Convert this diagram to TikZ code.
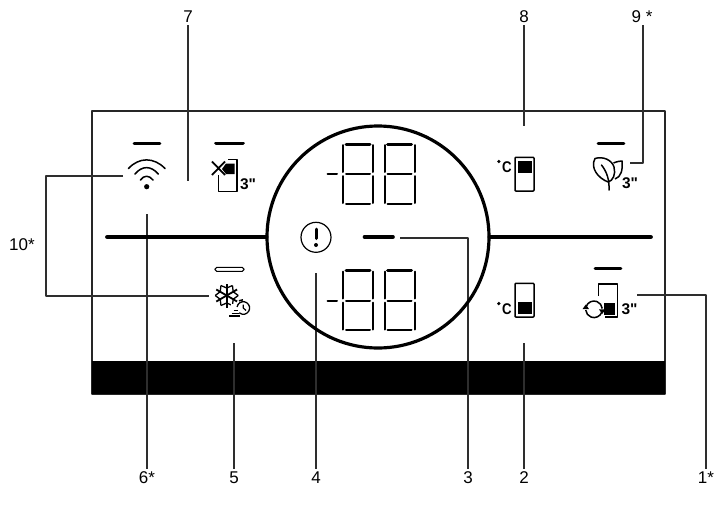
\documentclass[tikz,border=0pt]{standalone}
\usepackage{fontspec}
\usetikzlibrary{calc}
\setmainfont{Liberation Sans}
\newfontfamily\icf{Liberation Sans}
\begin{document}
\begin{tikzpicture}[x=1pt,y=-1pt,line join=round,
  leader/.style={draw=black!82,line width=1.3pt},
  lbl/.style={font=\fontsize{17}{18}\selectfont,inner sep=0pt,text=black},
  sec/.style={font=\icf\fontsize{15.5}{16}\selectfont\bfseries,inner sep=0pt},
  ink/.style={draw=black,line width=1.5pt},
  dashmark/.style={draw=black,line width=2.8pt,line cap=round},
  seg/.style={draw=black,line width=2pt,line cap=round},
  segb/.style={draw=black,line width=3pt,line cap=round}]
\useasboundingbox (0,0) rectangle (718,512);
% coordinates for connector ends
\foreach \n/\x/\y in {a7/188/181,a8/524/126,a9/630/163,a9b/643/163,a6/147/214,a5/234/343,a4/316/273,a3/400/238,a3b/468/238,a2/524/343,a1/637/295,a1b/706/295,a10/123/176,a10b/46/176,a10c/46/296,a10d/209/296}
  \coordinate (\n) at (\x,\y);
% labels
\node[lbl] (l7) at (188,17) {7};
\node[lbl] (l8) at (524,17) {8};
\node[lbl] (l9) at (642,17) {9 *};
\node[lbl] (l10) at (22,245) {10*};
\node[lbl] (l6) at (147,478) {6*};
\node[lbl] (l5) at (234,478) {5};
\node[lbl] (l4) at (316,478) {4};
\node[lbl] (l3) at (468,478) {3};
\node[lbl] (l2) at (524,478) {2};
\node[lbl] (l1) at (706,478) {1*};
% panel
\draw[black!85,line width=1.3pt] (92,111) rectangle (665,394);
\fill[black] (92,361) rectangle (665,394);
% leaders
\draw[leader] (188,25) -- (a7);
\draw[leader] (524,25) -- (a8);
\draw[leader] (a9) -- (a9b) -- (643,25);
\draw[leader] (a6) -- (147,469);
\draw[leader] (a5) -- (234,469);
\draw[leader] (a4) -- (316,469);
\draw[leader] (a3) -- (a3b) -- (468,469);
\draw[leader] (a2) -- (524,469);
\draw[leader] (a1) -- (a1b) -- (706,469);
\draw[leader] (a10) -- (a10b) -- (a10c) -- (a10d);
% bars and circle
\draw[black,line width=4.8pt,line cap=round] (107.5,237) -- (266,237);
\draw[black,line width=4.8pt,line cap=round] (490,237) -- (650.5,237);
\draw[black,line width=3.2pt] (378,237) circle[radius=111];
% digits
\foreach \y in {144,270.5}{
  \draw[seg] (327.5,\y+30) -- (337,\y+30);
  \foreach \x in {343,384.5}{
    \draw[seg] (\x,\y+1) -- (\x,\y+28) (\x+30,\y+1) -- (\x+30,\y+28)
      (\x,\y+32) -- (\x,\y+59) (\x+30,\y+32) -- (\x+30,\y+59);
    \draw[segb] (\x+3,\y) -- (\x+27,\y);
    \draw[seg] (\x+3,\y+30) -- (\x+27,\y+30) (\x+3,\y+59.5) -- (\x+27,\y+59.5);
  }
}
% alert
\draw[black,line width=1.2pt] (316,237.3) circle[radius=15];
\draw[black,line width=3pt,line cap=round] (316,229) -- (316,238.5);
\fill[black] (316,245) circle[radius=2];
\draw[black,line width=3.6pt,line cap=round] (364.5,237) -- (393,237);
% dashes above icons
\draw[dashmark] (134,143.3) -- (160,143.3);
\draw[black,line width=3.6pt,line cap=round] (216,143.3) -- (243,143.3);
\draw[dashmark] (598,143.3) -- (624,143.3);
\draw[dashmark] (595,268.7) -- (621,268.7);
\draw[black,line width=1.1pt,fill=white,rounded corners=1.8pt] (215,267.3) rectangle (244,271.4);
% wifi
\fill[black] (146.7,186.7) circle[radius=2.6];
\draw[ink,line cap=round] (128.5,168.5) .. controls (139,157) and (154,157) .. (165,168.5);
\draw[ink,line cap=round] (135,174) .. controls (142,165.5) and (151,165.5) .. (158.3,174);
\draw[ink,line cap=round] (140.5,180) .. controls (144,175) and (149,175) .. (153,180);
% X door icon
\draw[ink] (228,159.5) -- (236.8,159.5) -- (236.8,191.7) -- (218.3,191.7) -- (218.3,175);
\fill[black] (226,163.5) -- (234.5,163.5) -- (234.5,174) -- (226,174) -- (222,169) -- cycle;
\draw[black,line width=1.8pt] (212,161.5) -- (225,175) (225,161.5) -- (212,175);
\node[sec] (t3a) at (248,184) {3"};
% C upper icon
\draw[black,line width=1.5pt,rounded corners=0.8pt] (515,157.3) rectangle (534,191);
\fill[black] (517.7,160.7) rectangle (531.7,172.7);
\fill[black] (498.8,161.5) circle[radius=1.8];
\node[sec] (c1) at (507,167.5) {\scalebox{.85}[1]{C}};
% leaf
\draw[ink] (608,182) .. controls (598,178) and (590,168) .. (595,158.5) .. controls (603,156) and (612,160) .. (614,167) .. controls (616,174) and (613,181) .. (608,182) -- cycle;
\draw[ink,line cap=round] (609,190) .. controls (609.5,180) and (607,172) .. (601.5,165);
\draw[ink] (613.5,163) .. controls (617,161.5) and (620,161) .. (622,161) .. controls (623,170) and (621,177) .. (615,179);
\node[sec] (t3b) at (630,183.5) {3"};
% snowflake
\coordinate (sf) at (226.7,295.5);
\foreach \a in {30,90,150}{
  \draw[black,line width=1.8pt] ($(sf)+(\a:12)$) -- ($(sf)+(\a+180:12)$);
}
\foreach \a in {30,90,150,210,270,330}{
  \draw[black,line width=1.3pt] ($(sf)+(\a:7.5)$) -- ($(sf)+(\a+30:11.5)$)
    ($(sf)+(\a:7.5)$) -- ($(sf)+(\a-30:11.5)$);
}
\fill[white] (231,304) rectangle (241,318);
\coordinate (ck) at (243.3,308);
\draw[black,line width=1.3pt] ($(ck)+(190:6.3)$) arc[start angle=190,end angle=490,radius=6.3];
\draw[black,line width=1.2pt] (243.3,304.5) -- (243.3,308) -- (246,310.5);
\draw[black,line width=1.5pt] (239,300.8) -- (243,299.8);
\draw[black,line width=1.2pt] (233.5,310.7) -- (237.5,310.7) (231.5,313.3) -- (238.5,313.3) (229,316) -- (239.5,316);
% C lower icon
\draw[black,line width=1.5pt,rounded corners=0.8pt] (515,283.3) rectangle (534,317);
\fill[black] (517.7,301.7) rectangle (531.7,314.3);
\fill[black] (498.8,303.5) circle[radius=1.8];
\node[sec] (c2) at (507,309.5) {\scalebox{.85}[1]{C}};
% cycle door icon
\draw[ink] (598.3,296) -- (598.3,284) -- (617.3,284) -- (617.3,317) -- (604.5,317);
\fill[black] (604.3,302.7) rectangle (615.3,315);
\coordinate (cy) at (594,309.3);
\draw[black,line width=1.5pt] ($(cy)+(200:8.3)$) arc[start angle=200,end angle=355,radius=8.3];
\draw[black,line width=1.5pt] ($(cy)+(20:8.3)$) arc[start angle=20,end angle=175,radius=8.3];
\fill[black] (582.6,309) -- (589,309) -- (585.8,304.5) -- cycle;
\fill[black] (599,309.4) -- (605.4,309.4) -- (602.2,314) -- cycle;
\node[sec] (t3c) at (629.5,309.5) {3"};
\end{tikzpicture}
\end{document}
